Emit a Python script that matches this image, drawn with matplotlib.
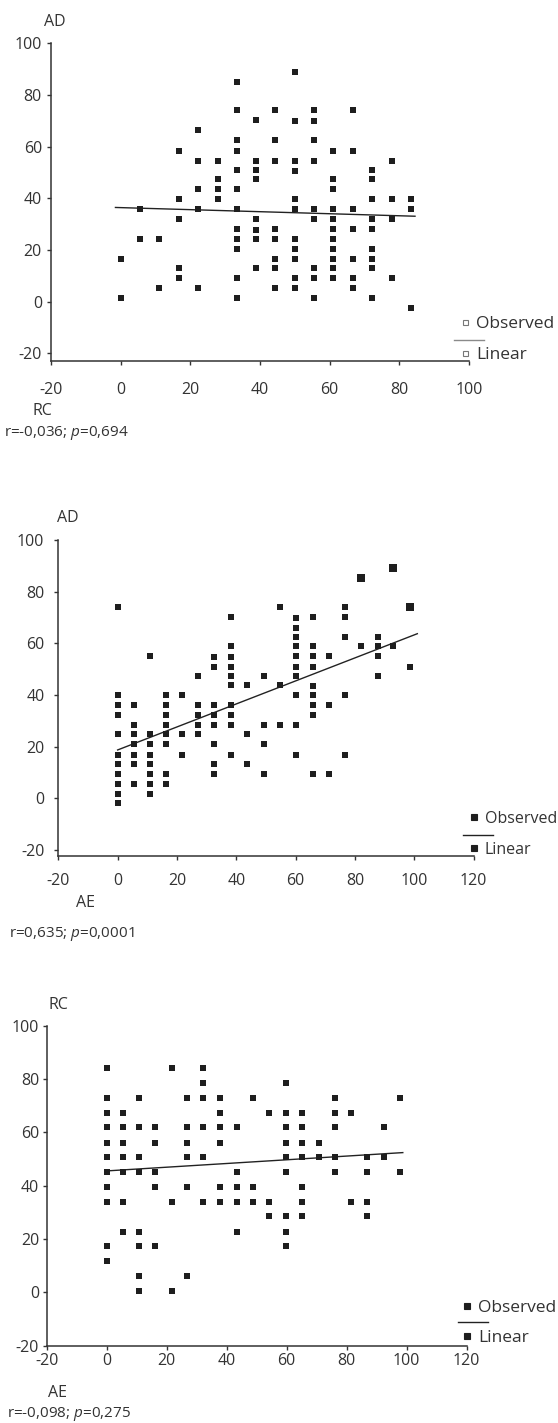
import matplotlib
matplotlib.use("Agg")
import matplotlib.pyplot as plt
import numpy as np
from matplotlib.lines import Line2D

plt.rcParams["font.family"] = ["Open Sans", "DejaVu Sans"]
plt.rcParams["mathtext.fontset"] = "custom"
plt.rcParams["mathtext.rm"] = "Open Sans"
plt.rcParams["mathtext.it"] = "Open Sans:italic"
plt.rcParams["axes.unicode_minus"] = False

W, H = 558, 1423
INK = "#333333"
DOT = "#1e1e1e"

# ── Panel 1: RC vs AD ─────────────────────────────────
rc_cols = [0, 5.6, 11.1, 16.7, 22.2, 27.8, 33.3, 38.9, 44.4, 50.0,
           55.6, 61.1, 66.7, 72.2, 77.8, 83.3]
ad_by_rc = [
    [16.4, 1.4],
    [35.8, 24.1],
    [24.1, 5.4],
    [58.5, 39.6, 31.9, 13.2, 9.2],
    [66.5, 54.6, 43.5, 35.8, 5.4],
    [54.6, 47.4, 43.5, 39.6],
    [85.2, 74.2, 62.5, 58.5, 50.9, 43.5, 35.8, 28.0, 24.1, 20.3, 9.2, 1.4],
    [70.3, 54.6, 50.9, 47.4, 31.9, 27.6, 24.1, 13.2],
    [74.2, 62.5, 54.6, 28.0, 24.1, 16.4, 13.2, 5.4],
    [89.0, 70.1, 54.6, 50.6, 39.6, 35.8, 24.1, 20.3, 16.4, 9.2, 5.4],
    [74.2, 70.1, 62.5, 54.6, 35.8, 31.9, 13.2, 9.2, 1.4],
    [58.5, 47.4, 43.5, 35.8, 31.9, 28.0, 24.1, 20.3, 16.4, 13.2, 9.2],
    [74.2, 58.5, 35.8, 28.0, 16.4, 9.2, 5.4],
    [50.9, 47.4, 39.6, 31.9, 28.0, 20.3, 16.4, 13.2, 1.4],
    [54.6, 39.6, 31.9, 9.2],
    [39.6, 35.8, -2.4],
]
p1_fit_span = (-1.5, 84.5)
p1_stats = "r=-0,036; $p$=0,694"

# ── Panel 2: AE vs AD ─────────────────────────────────
ae_cols2 = [0, 5.4, 11.0, 16.4, 21.8, 27.1, 32.6, 38.1, 43.6, 49.3,
            54.6, 60.1, 65.7, 71.3, 76.5, 82.1, 87.6, 92.9, 98.6]
ad_by_ae = [
    [74.2, 39.9, 36.0, 32.3, 24.8, 16.9, 13.2, 9.4, 5.5, 1.7, -1.7],
    [36.0, 28.5, 24.8, 20.9, 16.9, 13.2, 5.5],
    [55.1, 24.8, 20.9, 16.9, 13.2, 9.4, 5.5, 1.7],
    [39.9, 36.0, 32.3, 28.5, 24.8, 20.9, 9.4, 5.5],
    [39.9, 24.8, 16.9],
    [47.3, 36.0, 32.3, 28.5, 24.8],
    [54.8, 51.0, 36.0, 32.3, 28.5, 20.9, 13.2, 9.4],
    [70.1, 59.0, 54.8, 51.0, 47.3, 43.7, 36.0, 32.3, 28.5, 16.9],
    [43.7, 24.8, 13.2],
    [47.3, 28.5, 20.9, 9.4],
    [74.2, 43.9, 28.5],
    [69.9, 66.0, 62.3, 59.0, 55.1, 51.0, 47.3, 39.9, 28.5, 16.9],
    [70.1, 59.1, 55.1, 51.0, 43.6, 39.9, 36.0, 32.3, 9.4],
    [55.1, 36.0, 9.4],
    [74.2, 70.1, 62.3, 39.9, 16.9],
    [59.1],
    [62.3, 59.1, 55.1, 47.3],
    [59.1],
    [51.0],
]
# overlapping cases drawn as bigger squares
ae_big = [82.1, 92.9, 98.6]
ad_big = [85.2, 89.0, 74.2]
p2_fit_span = (0, 101)
p2_stats = "r=0,635; $p$=0,0001"

# ── Panel 3: AE vs RC ─────────────────────────────────
ae_cols3 = [0, 5.3, 10.9, 16.1, 21.7, 26.8, 32.0, 37.8, 43.3, 48.9,
            54.1, 59.7, 65.2, 70.7, 76.0, 81.3, 86.9, 92.3, 97.9]
rc_by_ae = [
    [84.0, 72.8, 67.4, 61.9, 56.1, 50.6, 45.2, 39.4, 33.9, 17.4, 11.7],
    [67.4, 61.9, 56.1, 50.6, 45.2, 33.9, 22.7],
    [72.8, 61.9, 50.6, 45.2, 22.7, 17.4, 6.1, 0.5],
    [61.9, 56.1, 45.2, 39.4, 17.4],
    [84.0, 33.9, 0.5],
    [72.8, 61.9, 56.1, 50.6, 39.4, 6.1],
    [84.0, 78.4, 72.8, 61.9, 50.6, 33.9],
    [72.8, 67.4, 61.9, 56.1, 39.4, 33.9],
    [61.9, 45.2, 39.4, 33.9, 22.7],
    [72.8, 39.4, 33.9],
    [67.4, 33.9, 28.6],
    [78.4, 67.4, 61.9, 56.1, 50.6, 45.2, 28.6, 22.7, 17.4],
    [67.4, 61.9, 56.1, 50.6, 39.4, 33.9, 28.6],
    [56.1, 50.6],
    [72.8, 67.4, 61.9, 50.6, 45.2],
    [67.4, 33.9],
    [50.6, 45.2, 33.9, 28.6],
    [61.9, 50.6],
    [72.8, 45.2],
]
p3_fit_span = (0, 98.7)
p3_stats = "r=-0,098; $p$=0,275"


def expand(cols, groups):
    xs = np.concatenate([[c] * len(g) for c, g in zip(cols, groups)])
    ys = np.concatenate(groups)
    return xs, ys


def fx(px):
    return px / W


def fy(py):
    return 1 - py / H


def style_axes(ax, xmax, ymin, xpad, ypad):
    for s in ("top", "right"):
        ax.spines[s].set_visible(False)
    for s in ("left", "bottom"):
        ax.spines[s].set_color(INK)
        ax.spines[s].set_linewidth(1.1)
    ax.set_xlim(-20, xmax)
    ax.set_ylim(ymin, 100)
    ax.set_xticks(np.arange(-20, xmax + 1, 20))
    ax.set_yticks(np.arange(-20, 101, 20))
    ax.tick_params(axis="x", direction="out", length=3, width=1, color=INK,
                   labelcolor=INK, labelsize=11.5, pad=xpad)
    ax.tick_params(axis="y", direction="out", length=3, width=1, color=INK,
                   labelcolor=INK, labelsize=11.5, pad=ypad)
    ax.patch.set_visible(False)


def draw_panel(ax, x, y, span):
    ax.scatter(x, y, marker="s", s=19, c=DOT, linewidths=0, zorder=3)
    slope, icpt = np.polyfit(x, y, 1)
    xs = np.array(span)
    ax.plot(xs, icpt + slope * xs, color="#222222", lw=1.0, zorder=2)


def legend(fig, mx, ty, ly, lx0, lx1, hollow, size):
    fc = "white" if hollow else DOT
    ec = "#777777" if hollow else DOT
    ms = 3.6 if hollow else 4.2
    lc = "#8a8a8a" if hollow else "#222222"
    for yy, label in ((ty[0], "Observed"), (ty[1], "Linear")):
        fig.add_artist(Line2D([fx(mx)], [fy(yy - 2)], marker="s", ms=ms,
                              mfc=fc, mec=ec, mew=0.8, ls="none"))
        fig.text(fx(mx + 11), fy(yy), label, color=INK, fontsize=size,
                 va="center", ha="left")
    fig.add_artist(Line2D([fx(lx0), fx(lx1)], [fy(ly), fy(ly)],
                          color=lc, lw=1.0))


fig = plt.figure(figsize=(W / 100, H / 100), dpi=100)

# panel 1
ax1 = fig.add_axes([fx(51), fy(361), 418 / W, (361 - 43.3) / H])
x1, y1 = expand(rc_cols, ad_by_rc)
draw_panel(ax1, x1, y1, p1_fit_span)
style_axes(ax1, 100, -22.96, 12, 3.5)
fig.text(fx(55), fy(22), "AD", color=INK, fontsize=11.5, ha="center", va="center")
fig.text(fx(42), fy(411), "RC", color=INK, fontsize=11.5, ha="center", va="center")
fig.text(fx(4), fy(433), p1_stats, color=INK, fontsize=11, ha="left", va="center")
legend(fig, 465, (324, 355), 340, 454, 484, True, 12.5)

# panel 2
ax2 = fig.add_axes([fx(58.3), fy(856), (473.7 - 58.3) / W, (856 - 540) / H])
x2, y2 = expand(ae_cols2, ad_by_ae)
ax2.scatter(ae_big, ad_big, marker="s", s=36, c=DOT, linewidths=0, zorder=3)
draw_panel(ax2, np.concatenate([x2, ae_big]), np.concatenate([y2, ad_big]),
           p2_fit_span)
style_axes(ax2, 120, -22.3, 9, 7)
fig.text(fx(68), fy(518), "AD", color=INK, fontsize=11.5, ha="center", va="center")
fig.text(fx(85), fy(903), "AE", color=INK, fontsize=11.5, ha="center", va="center")
fig.text(fx(9), fy(934), p2_stats, color=INK, fontsize=11, ha="left", va="center")
legend(fig, 474, (819, 850), 835, 463, 493, False, 11.5)

# panel 3
ax3 = fig.add_axes([fx(46.7), fy(1345.6), 420 / W, (1345.6 - 1025.7) / H])
x3, y3 = expand(ae_cols3, rc_by_ae)
draw_panel(ax3, x3, y3, p3_fit_span)
style_axes(ax3, 120, -20, 2, 2.5)
fig.text(fx(58), fy(1005), "RC", color=INK, fontsize=11.5, ha="center", va="center")
fig.text(fx(58), fy(1393), "AE", color=INK, fontsize=11.5, ha="center", va="center")
fig.text(fx(7), fy(1414), p3_stats, color=INK, fontsize=11, ha="left", va="center")
legend(fig, 467, (1308, 1338), 1322, 458, 488, False, 12.5)

fig.savefig("out.png", dpi=100, facecolor="white")
